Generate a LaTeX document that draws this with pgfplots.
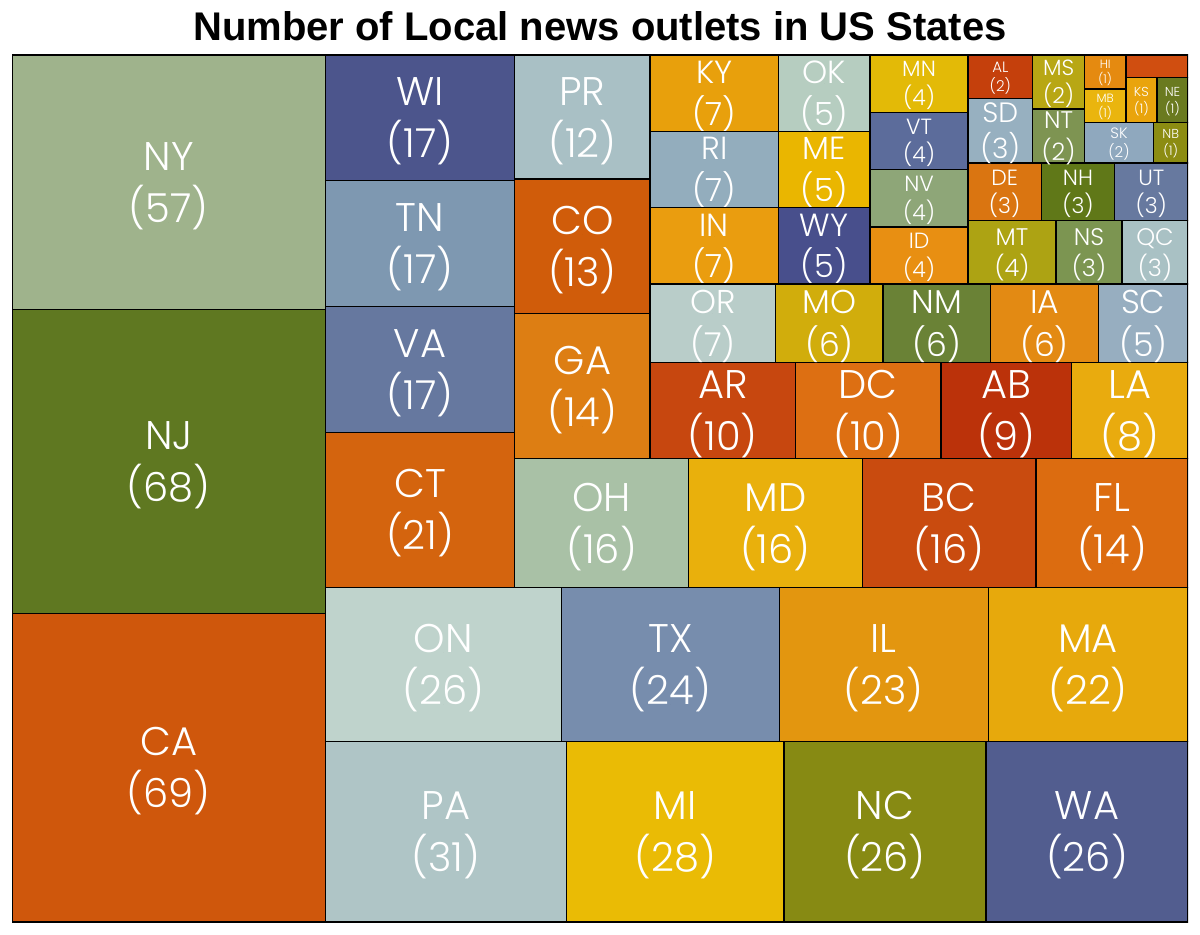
\documentclass[border=0pt]{standalone}
\usepackage{pgfplots}
\pgfplotsset{compat=1.18}
\usepackage{fontspec}
\setmainfont{Liberation Sans}
\newfontfamily\lab{Poppins Light}
% colours
\definecolor{cNY}{HTML}{9FB38C}
\definecolor{cNJ}{HTML}{5F7821}
\definecolor{cCA}{HTML}{CF570C}
\definecolor{cWI}{HTML}{4C558C}
\definecolor{cTN}{HTML}{7E98B1}
\definecolor{cVA}{HTML}{66789F}
\definecolor{cCT}{HTML}{D4640E}
\definecolor{cPR}{HTML}{A9C0C5}
\definecolor{cCO}{HTML}{D05C0A}
\definecolor{cGA}{HTML}{DD7E13}
\definecolor{cOH}{HTML}{A9C1A6}
\definecolor{cMD}{HTML}{E9B00C}
\definecolor{cBC}{HTML}{C94B0F}
\definecolor{cFL}{HTML}{DC6C10}
\definecolor{cON}{HTML}{BFD3CC}
\definecolor{cTX}{HTML}{778DAD}
\definecolor{cIL}{HTML}{E3960F}
\definecolor{cMA}{HTML}{E7A90C}
\definecolor{cPA}{HTML}{AFC5C6}
\definecolor{cMI}{HTML}{EABB05}
\definecolor{cNC}{HTML}{878A13}
\definecolor{cWA}{HTML}{525D8F}
\definecolor{cKY}{HTML}{E8A00C}
\definecolor{cRI}{HTML}{93ADBD}
\definecolor{cIN}{HTML}{EA9D0F}
\definecolor{cOK}{HTML}{B6CDC0}
\definecolor{cME}{HTML}{EAB600}
\definecolor{cWY}{HTML}{484F8C}
\definecolor{cMN}{HTML}{E3BA07}
\definecolor{cVT}{HTML}{5C6C9B}
\definecolor{cNV}{HTML}{8EA678}
\definecolor{cID}{HTML}{E88F12}
\definecolor{cAL}{HTML}{C5400C}
\definecolor{cSD}{HTML}{97B0C0}
\definecolor{cMS}{HTML}{B8A714}
\definecolor{cNT}{HTML}{7E9452}
\definecolor{cHI}{HTML}{E58A10}
\definecolor{cMB}{HTML}{EAB50E}
\definecolor{cKS}{HTML}{E9A40C}
\definecolor{cNE}{HTML}{6A7A20}
\definecolor{cSK}{HTML}{8FA8BE}
\definecolor{cNB}{HTML}{8C8C12}
\definecolor{cXX}{HTML}{D04E10}
\definecolor{cDE}{HTML}{DA7511}
\definecolor{cNH}{HTML}{607818}
\definecolor{cUT}{HTML}{67799F}
\definecolor{cMT}{HTML}{ADA313}
\definecolor{cNS}{HTML}{7C9551}
\definecolor{cQC}{HTML}{A9C1C4}
\definecolor{cOR}{HTML}{B9CDC9}
\definecolor{cMO}{HTML}{D1AD0C}
\definecolor{cNM}{HTML}{6A8236}
\definecolor{cIA}{HTML}{E38A13}
\definecolor{cSC}{HTML}{97AEC0}
\definecolor{cAR}{HTML}{C7470F}
\definecolor{cDC}{HTML}{DD6F12}
\definecolor{cAB}{HTML}{BB320A}
\definecolor{cLA}{HTML}{E9AB0E}
\pgfplotsset{
  rect/.style={fill=#1, draw=black, line width=1.4bp},
  lbl/.style={only marks, mark=*, mark size=0pt, mark options={draw=none,fill=none},
    point meta=explicit symbolic, nodes near coords,
    every node near coord/.append style={anchor=base, inner sep=0pt, text=white,
      font=\lab\fontsize{#1bp}{#1bp}\selectfont}},
}
\begin{document}
\begin{tikzpicture}
\path[use as bounding box] (0,0) rectangle (1200bp,935bp);
\begin{axis}[at={(12bp,13bp)}, anchor=south west, scale only axis,
  width=1176bp, height=867bp,
  xmin=12, xmax=1188, ymin=55, ymax=922, y dir=reverse,
  axis lines=none, xtick=\empty, ytick=\empty,
  title={Number of Local news outlets in US States},
  title style={at={(0.5,1)}, anchor=base, yshift=9bp, inner sep=0pt,
    font=\bfseries\fontsize{40bp}{40bp}\selectfont},
]
% column 1
\addplot[rect=cNY] coordinates {(12,55) (325.39,55) (325.39,309.73) (12,309.73)} -- cycle;
\addplot[rect=cNJ] coordinates {(12,309.73) (325.39,309.73) (325.39,613.63) (12,613.63)} -- cycle;
\addplot[rect=cCA] coordinates {(12,613.63) (325.39,613.63) (325.39,922) (12,922)} -- cycle;
% bottom row
\addplot[rect=cPA] coordinates {(325.39,741.78) (566.30,741.78) (566.30,922) (325.39,922)} -- cycle;
\addplot[rect=cMI] coordinates {(566.30,741.78) (783.89,741.78) (783.89,922) (566.30,922)} -- cycle;
\addplot[rect=cNC] coordinates {(783.89,741.78) (985.94,741.78) (985.94,922) (783.89,922)} -- cycle;
\addplot[rect=cWA] coordinates {(985.94,741.78) (1188,741.78) (1188,922) (985.94,922)} -- cycle;
% ON row
\addplot[rect=cON] coordinates {(325.39,587.54) (561.47,587.54) (561.47,741.78) (325.39,741.78)} -- cycle;
\addplot[rect=cTX] coordinates {(561.47,587.54) (779.39,587.54) (779.39,741.78) (561.47,741.78)} -- cycle;
\addplot[rect=cIL] coordinates {(779.39,587.54) (988.23,587.54) (988.23,741.78) (779.39,741.78)} -- cycle;
\addplot[rect=cMA] coordinates {(988.23,587.54) (1188,587.54) (1188,741.78) (988.23,741.78)} -- cycle;
% WI column
\addplot[rect=cWI] coordinates {(325.39,55) (514.74,55) (514.74,180.74) (325.39,180.74)} -- cycle;
\addplot[rect=cTN] coordinates {(325.39,180.74) (514.74,180.74) (514.74,306.47) (325.39,306.47)} -- cycle;
\addplot[rect=cVA] coordinates {(325.39,306.47) (514.74,306.47) (514.74,432.21) (325.39,432.21)} -- cycle;
\addplot[rect=cCT] coordinates {(325.39,432.21) (514.74,432.21) (514.74,587.54) (325.39,587.54)} -- cycle;
% OH row
\addplot[rect=cOH] coordinates {(514.74,458.57) (688.48,458.57) (688.48,587.54) (514.74,587.54)} -- cycle;
\addplot[rect=cMD] coordinates {(688.48,458.57) (862.22,458.57) (862.22,587.54) (688.48,587.54)} -- cycle;
\addplot[rect=cBC] coordinates {(862.22,458.57) (1035.97,458.57) (1035.97,587.54) (862.22,587.54)} -- cycle;
\addplot[rect=cFL] coordinates {(1035.97,458.57) (1188,458.57) (1188,587.54) (1035.97,587.54)} -- cycle;
% PR column
\addplot[rect=cPR] coordinates {(514.74,55) (650.09,55) (650.09,179.18) (514.74,179.18)} -- cycle;
\addplot[rect=cCO] coordinates {(514.74,179.18) (650.09,179.18) (650.09,313.70) (514.74,313.70)} -- cycle;
\addplot[rect=cGA] coordinates {(514.74,313.70) (650.09,313.70) (650.09,458.57) (514.74,458.57)} -- cycle;
% AR row
\addplot[rect=cAR] coordinates {(650.09,362.23) (795.47,362.23) (795.47,458.57) (650.09,458.57)} -- cycle;
\addplot[rect=cDC] coordinates {(795.47,362.23) (940.85,362.23) (940.85,458.57) (795.47,458.57)} -- cycle;
\addplot[rect=cAB] coordinates {(940.85,362.23) (1071.69,362.23) (1071.69,458.57) (940.85,458.57)} -- cycle;
\addplot[rect=cLA] coordinates {(1071.69,362.23) (1188,362.23) (1188,458.57) (1071.69,458.57)} -- cycle;
% OR row
\addplot[rect=cOR] coordinates {(650.09,284.12) (775.60,284.12) (775.60,362.23) (650.09,362.23)} -- cycle;
\addplot[rect=cMO] coordinates {(775.60,284.12) (883.18,284.12) (883.18,362.23) (775.60,362.23)} -- cycle;
\addplot[rect=cNM] coordinates {(883.18,284.12) (990.76,284.12) (990.76,362.23) (883.18,362.23)} -- cycle;
\addplot[rect=cIA] coordinates {(990.76,284.12) (1098.35,284.12) (1098.35,362.23) (990.76,362.23)} -- cycle;
\addplot[rect=cSC] coordinates {(1098.35,284.12) (1188,284.12) (1188,362.23) (1098.35,362.23)} -- cycle;
% KY column
\addplot[rect=cKY] coordinates {(650.09,55) (778.46,55) (778.46,131.37) (650.09,131.37)} -- cycle;
\addplot[rect=cRI] coordinates {(650.09,131.37) (778.46,131.37) (778.46,207.75) (650.09,207.75)} -- cycle;
\addplot[rect=cIN] coordinates {(650.09,207.75) (778.46,207.75) (778.46,284.12) (650.09,284.12)} -- cycle;
% OK column
\addplot[rect=cOK] coordinates {(778.46,55) (870.15,55) (870.15,131.37) (778.46,131.37)} -- cycle;
\addplot[rect=cME] coordinates {(778.46,131.37) (870.15,131.37) (870.15,207.75) (778.46,207.75)} -- cycle;
\addplot[rect=cWY] coordinates {(778.46,207.75) (870.15,207.75) (870.15,284.12) (778.46,284.12)} -- cycle;
% MN column
\addplot[rect=cMN] coordinates {(870.15,55) (967.95,55) (967.95,112.28) (870.15,112.28)} -- cycle;
\addplot[rect=cVT] coordinates {(870.15,112.28) (967.95,112.28) (967.95,169.56) (870.15,169.56)} -- cycle;
\addplot[rect=cNV] coordinates {(870.15,169.56) (967.95,169.56) (967.95,226.84) (870.15,226.84)} -- cycle;
\addplot[rect=cID] coordinates {(870.15,226.84) (967.95,226.84) (967.95,284.12) (870.15,284.12)} -- cycle;
% MT row
\addplot[rect=cMT] coordinates {(967.95,220.47) (1055.97,220.47) (1055.97,284.12) (967.95,284.12)} -- cycle;
\addplot[rect=cNS] coordinates {(1055.97,220.47) (1121.99,220.47) (1121.99,284.12) (1055.97,284.12)} -- cycle;
\addplot[rect=cQC] coordinates {(1121.99,220.47) (1188,220.47) (1188,284.12) (1121.99,284.12)} -- cycle;
% DE row
\addplot[rect=cDE] coordinates {(967.95,163.19) (1041.30,163.19) (1041.30,220.47) (967.95,220.47)} -- cycle;
\addplot[rect=cNH] coordinates {(1041.30,163.19) (1114.65,163.19) (1114.65,220.47) (1041.30,220.47)} -- cycle;
\addplot[rect=cUT] coordinates {(1114.65,163.19) (1188,163.19) (1188,220.47) (1114.65,220.47)} -- cycle;
% AL / SD, MS / NT
\addplot[rect=cAL] coordinates {(967.95,55) (1032.68,55) (1032.68,98.28) (967.95,98.28)} -- cycle;
\addplot[rect=cSD] coordinates {(967.95,98.28) (1032.68,98.28) (1032.68,163.19) (967.95,163.19)} -- cycle;
\addplot[rect=cMS] coordinates {(1032.68,55) (1084.46,55) (1084.46,109.10) (1032.68,109.10)} -- cycle;
\addplot[rect=cNT] coordinates {(1032.68,109.10) (1084.46,109.10) (1084.46,163.19) (1032.68,163.19)} -- cycle;
% smallest
\addplot[rect=cSK] coordinates {(1084.46,122.62) (1153.49,122.62) (1153.49,163.19) (1084.46,163.19)} -- cycle;
\addplot[rect=cNB] coordinates {(1153.49,122.62) (1188,122.62) (1188,163.19) (1153.49,163.19)} -- cycle;
\addplot[rect=cHI] coordinates {(1084.46,55) (1125.88,55) (1125.88,88.81) (1084.46,88.81)} -- cycle;
\addplot[rect=cMB] coordinates {(1084.46,88.81) (1125.88,88.81) (1125.88,122.62) (1084.46,122.62)} -- cycle;
\addplot[rect=cXX] coordinates {(1125.88,55) (1188,55) (1188,77.54) (1125.88,77.54)} -- cycle;
\addplot[rect=cKS] coordinates {(1125.88,77.54) (1156.94,77.54) (1156.94,122.62) (1125.88,122.62)} -- cycle;
\addplot[rect=cNE] coordinates {(1156.94,77.54) (1188,77.54) (1188,122.62) (1156.94,122.62)} -- cycle;
% ---- labels, size 40
\addplot[lbl=40] coordinates {
 (168.7,170.4) [NY] (168.7,222.4) [(57)]
 (168.7,449.7) [NJ] (168.7,501.7) [(68)]
 (168.7,755.8) [CA] (168.7,807.8) [(69)]
 (445.8,819.9) [PA] (445.8,871.9) [(31)]
 (675.1,819.9) [MI] (675.1,871.9) [(28)]
 (884.9,819.9) [NC] (884.9,871.9) [(26)]
 (1087.0,819.9) [WA] (1087.0,871.9) [(26)]
 (443.4,652.7) [ON] (443.4,704.7) [(26)]
 (670.4,652.7) [TX] (670.4,704.7) [(24)]
 (883.8,652.7) [IL] (883.8,704.7) [(23)]
 (1088.1,652.7) [MA] (1088.1,704.7) [(22)]
 (420.1,105.9) [WI] (420.1,157.9) [(17)]
 (420.1,231.6) [TN] (420.1,283.6) [(17)]
 (420.1,357.3) [VA] (420.1,409.3) [(17)]
 (420.1,497.9) [CT] (420.1,549.9) [(21)]
 (601.6,511.1) [OH] (601.6,563.1) [(16)]
 (775.4,511.1) [MD] (775.4,563.1) [(16)]
 (949.1,511.1) [BC] (949.1,563.1) [(16)]
 (1112.0,511.1) [FL] (1112.0,563.1) [(14)]
 (582.4,105.1) [PR] (582.4,157.1) [(12)]
 (582.4,234.4) [CO] (582.4,286.4) [(13)]
 (582.4,374.1) [GA] (582.4,426.1) [(14)]
 (722.8,398.4) [AR] (722.8,450.4) [(10)]
 (868.2,398.4) [DC] (868.2,450.4) [(10)]
 (1006.3,398.4) [AB] (1006.3,450.4) [(9)]
 (1129.8,398.4) [LA] (1129.8,450.4) [(8)]
};
% size 33
\addplot[lbl=33] coordinates {
 (712.8,313.3) [OR] (712.8,356.2) [(7)]
 (829.4,313.3) [MO] (829.4,356.2) [(6)]
 (937.0,313.3) [NM] (937.0,356.2) [(6)]
 (1044.6,313.3) [IA] (1044.6,356.2) [(6)]
 (1143.2,313.3) [SC] (1143.2,356.2) [(5)]
};
% size 32
\addplot[lbl=32] coordinates {
 (714.3,83.6) [KY] (714.3,125.2) [(7)]
 (714.3,160.0) [RI] (714.3,201.6) [(7)]
 (714.3,236.3) [IN] (714.3,277.9) [(7)]
 (824.3,83.6) [OK] (824.3,125.2) [(5)]
 (824.3,160.0) [ME] (824.3,201.6) [(5)]
 (824.3,236.3) [WY] (824.3,277.9) [(5)]
};
% size 28
\addplot[lbl=28] coordinates {
 (1000.3,122.3) [SD] (1000.3,158.7) [(3)]
};
% size 24
\addplot[lbl=24] coordinates {
 (1012.0,245.1) [MT] (1012.0,276.3) [(4)]
 (1089.0,245.1) [NS] (1089.0,276.3) [(3)]
 (1155.0,245.1) [QC] (1155.0,276.3) [(3)]
 (1058.6,128.9) [NT] (1058.6,160.1) [(2)]
};
% size 22
\addplot[lbl=22] coordinates {
 (919.05,77.0) [MN] (919.05,105.6) [(4)]
 (919.05,134.3) [VT] (919.05,162.9) [(4)]
 (919.05,191.6) [NV] (919.05,220.2) [(4)]
 (919.05,248.9) [ID] (919.05,277.5) [(4)]
 (1004.6,185.2) [DE] (1004.6,213.8) [(3)]
 (1078.0,185.2) [NH] (1078.0,213.8) [(3)]
 (1151.3,185.2) [UT] (1151.3,213.8) [(3)]
 (1058.6,75.4) [MS] (1058.6,104.0) [(2)]
};
% size 15
\addplot[lbl=15] coordinates {
 (1000.3,72.1) [AL] (1000.3,91.6) [(2)]
 (1119.0,138.4) [SK] (1119.0,157.9) [(2)]
};
% size 13
\addplot[lbl=13] coordinates {
 (1141.4,96.2) [KS] (1141.4,113.1) [(1)]
 (1172.5,96.2) [NE] (1172.5,113.1) [(1)]
 (1170.7,139.0) [NB] (1170.7,155.9) [(1)]
};
% size 12
\addplot[lbl=12] coordinates {
 (1105.2,68.3) [HI] (1105.2,83.9) [(1)]
 (1105.2,102.1) [MB] (1105.2,117.7) [(1)]
};
\end{axis}
\end{tikzpicture}
\end{document}
